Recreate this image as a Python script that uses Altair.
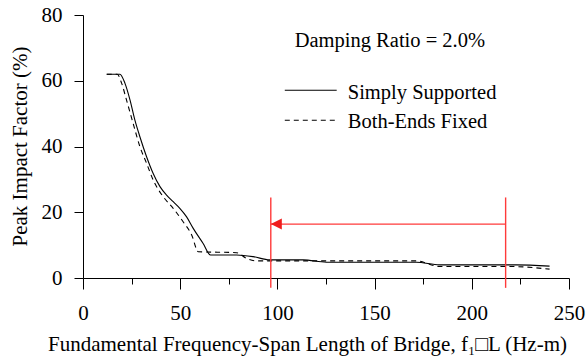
import altair as alt
import pandas as pd

# Simply Supported (solid)
ss_x = [12.2, 19.0, 21.6, 24.2, 26.7, 29.3, 32.7, 36.1, 39.6, 43.0, 46.4, 49.8, 53.3, 56.7,
        61.8, 65.6, 79.0, 87.5, 96.1, 113.2, 125.2, 171.4, 183.5, 222.9, 240.0]
ss_y = [62.0, 62.0, 59.2, 54.1, 48.0, 42.9, 36.9, 31.8, 27.8, 25.2, 23.2, 21.2, 18.6, 15.1,
        10.5, 7.0, 7.0, 6.5, 5.5, 5.5, 4.8, 4.8, 4.0, 4.0, 3.6]
# Both-Ends Fixed (dashed)
bf_x = [12.2, 17.6, 19.9, 22.4, 25.8, 29.3, 32.7, 36.1, 41.3, 46.4, 51.5, 55.9, 59.3, 79.0,
        84.1, 89.3, 171.4, 183.5, 219.4, 240.0]
bf_y = [62.0, 62.0, 59.2, 54.1, 47.0, 39.9, 34.9, 29.8, 24.7, 21.2, 17.1, 13.1, 8.0, 7.7,
        6.0, 5.2, 5.2, 3.5, 3.5, 2.7]

# Annotation: range markers and arrow
range_x = [96.6, 217.4]
range_y = [-3.0, 24.5]
arrow_y = 16.4

# Text / legend (in data units)
damping_text = "Damping Ratio = 2.0%"
damping_pos = [108.9, 70.2]
legend_labels = ["Simply Supported", "Both-Ends Fixed"]
legend_line_x = [103.8, 130.5]
legend_line_y = [57.1, 48.0]
legend_text_x = 136.2
legend_text_y = [54.4, 45.5]

x_title = "Fundamental Frequency-Span Length of Bridge, f\u2081\u25a1L (Hz-m)"
y_title = "Peak Impact Factor (%)"

FONT = "Liberation Serif"
FS = 21

xs = alt.Scale(domain=[0, 250], nice=False, zero=False)
ys = alt.Scale(domain=[0, 80], nice=False, zero=False)

x_axis = alt.Axis(
    values=list(range(0, 251, 25)),
    labelExpr="datum.value % 50 === 0 ? datum.label : ''",
    tickSize={"condition": {"test": "datum.value % 50 === 0", "value": 11}, "value": 6},
    grid=False, labelFontSize=FS, labelPadding=13, labelFlush=False,
    labelFont=FONT, titleFont=FONT,
    title=x_title, titleFontSize=FS, titleFontWeight="normal",
    titleX=224, titleY=72, titleBaseline="alphabetic", titleAlign="center", titleAnchor="middle",
)
y_axis = alt.Axis(
    values=list(range(0, 81, 10)),
    labelExpr="datum.value % 20 === 0 ? datum.label : ''",
    tickSize={"condition": {"test": "datum.value % 20 === 0", "value": 9}, "value": 5},
    grid=False, labelFontSize=FS, labelPadding=12, labelFlush=False,
    labelFont=FONT, titleFont=FONT,
    title=y_title, titleFontSize=FS, titleFontWeight="normal",
    titleX=-57, titleY=131, titleBaseline="alphabetic", titleAlign="center", titleAnchor="middle",
)

ss_df = pd.DataFrame({"x": ss_x, "y": ss_y})
bf_df = pd.DataFrame({"x": bf_x, "y": bf_y})

ss_line = alt.Chart(ss_df).mark_line(color="black", strokeWidth=1.1, interpolate="monotone").encode(
    x=alt.X("x:Q", scale=xs, axis=x_axis),
    y=alt.Y("y:Q", scale=ys, axis=y_axis),
)
bf_line = alt.Chart(bf_df).mark_line(color="black", strokeWidth=1.1, strokeDash=[5, 4],
                                     interpolate="monotone").encode(
    x=alt.X("x:Q", scale=xs), y=alt.Y("y:Q", scale=ys))

red = "#ff3a3a"
vr_df = pd.DataFrame({"x": range_x, "y": [range_y[0]] * 2, "y2": [range_y[1]] * 2})
vrules = alt.Chart(vr_df).mark_rule(color=red, strokeWidth=1.4).encode(
    x=alt.X("x:Q", scale=xs), y=alt.Y("y:Q", scale=ys), y2="y2:Q")

hr_df = pd.DataFrame({"x": [range_x[0]], "x2": [range_x[1]], "y": [arrow_y]})
hrule = alt.Chart(hr_df).mark_rule(color=red, strokeWidth=1.4).encode(
    x=alt.X("x:Q", scale=xs), x2="x2:Q", y=alt.Y("y:Q", scale=ys))

head_df = pd.DataFrame({"x": [range_x[0]], "y": [arrow_y]})
head = alt.Chart(head_df).mark_point(shape="M0,0L2,-1L2,1Z", filled=True, color="#f01c1c",
                                     size=121, opacity=1).encode(
    x=alt.X("x:Q", scale=xs), y=alt.Y("y:Q", scale=ys))

dt_df = pd.DataFrame({"x": [damping_pos[0]], "y": [damping_pos[1]], "t": [damping_text]})
dtext = alt.Chart(dt_df).mark_text(font=FONT, fontSize=20.5, align="left", baseline="alphabetic",
                                   color="black").encode(
    x=alt.X("x:Q", scale=xs), y=alt.Y("y:Q", scale=ys), text="t:N")

lg_df = pd.DataFrame({"x": [legend_line_x[0]] * 2, "x2": [legend_line_x[1]] * 2,
                      "y": legend_line_y, "k": legend_labels})
lg_solid = alt.Chart(lg_df.iloc[[0]]).mark_rule(color="black", strokeWidth=1.1).encode(
    x=alt.X("x:Q", scale=xs), x2="x2:Q", y=alt.Y("y:Q", scale=ys))
lg_dash = alt.Chart(lg_df.iloc[[1]]).mark_rule(color="black", strokeWidth=1.1, strokeDash=[5, 4]).encode(
    x=alt.X("x:Q", scale=xs), x2="x2:Q", y=alt.Y("y:Q", scale=ys))
lt_df = pd.DataFrame({"x": [legend_text_x] * 2, "y": legend_text_y, "t": legend_labels})
lg_text = alt.Chart(lt_df).mark_text(font=FONT, fontSize=20.5, align="left", baseline="alphabetic",
                                     color="black").encode(
    x=alt.X("x:Q", scale=xs), y=alt.Y("y:Q", scale=ys), text="t:N")

chart = alt.layer(ss_line, bf_line, vrules, hrule, head, dtext, lg_solid, lg_dash, lg_text).properties(
    width=486, height=263,
    padding={"left": 83, "top": 15, "right": 17, "bottom": 84},
    autosize=alt.AutoSizeParams(type="none"),
    background="white",
).configure(font=FONT).configure_view(stroke=None).configure_axis(
    labelColor="black", titleColor="black",
    domainColor="black", tickColor="black", domainWidth=1, tickWidth=1,
)

chart.save("out.html", embed_options={"renderer": "svg", "actions": False})
